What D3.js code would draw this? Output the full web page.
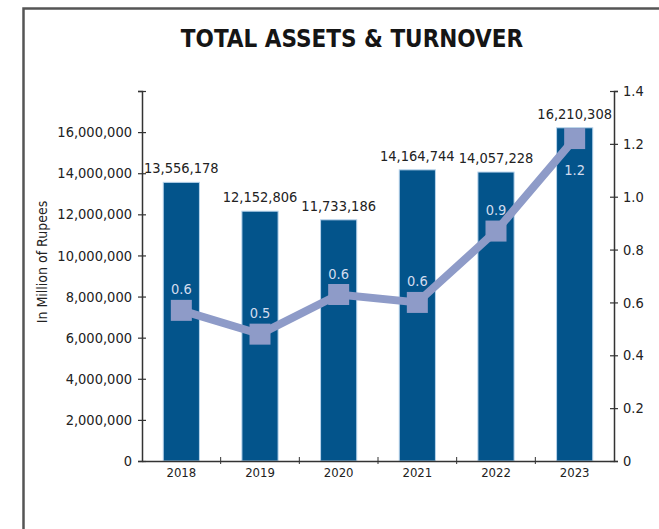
<!DOCTYPE html>
<html>
<head>
<meta charset="utf-8">
<script src="https://cdn.jsdelivr.net/npm/d3@7"></script>
<style>
	body { margin: 0; background: #fff; }
	text { font-family: "DejaVu Sans Condensed", "DejaVu Sans", sans-serif; }
</style>
</head>
<body>
<div id="chart" style="width:659px;height:529px;"></div>
<script>
// chart data
var years = ["2018", "2019", "2020", "2021", "2022", "2023"];
var totalAssets = [13556178, 12152806, 11733186, 14164744, 14057228, 16210308];
var turnover = [0.57, 0.48, 0.63, 0.60, 0.87, 1.22];
var turnoverLabels = ["0.6", "0.5", "0.6", "0.6", "0.9", "1.2"];
var assetTicks = [0, 2000000, 4000000, 6000000, 8000000, 10000000, 12000000, 14000000, 16000000, 18000000];
var turnoverTicks = [0, 0.2, 0.4, 0.6, 0.8, 1.0, 1.2, 1.4];

var Combo = function(config){
	// defaults
	this.targetId = null;
	this.margin = {top: 91, right: 45, bottom: 68, left: 142};
	Object.keys(config).forEach(key => this[key] = config[key]);

	this.setupSVG();
	this.setupScales();
	this.drawFrame();
	this.drawBars();
	this.drawAxes();
	this.drawLine();
}

Combo.prototype.setupSVG = function(){
	this.width = 659;
	this.height = 529;
	this.chartWidth = this.width - this.margin.left - this.margin.right;
	this.chartHeight = this.height - this.margin.top - this.margin.bottom;

	this.svg = d3.select("#" + this.targetId)
		.append('svg')
		.attr('width', this.width)
		.attr('height', this.height);

	this.g = this.svg.append('g')
		.attr('transform', `translate(${this.margin.left}, ${this.margin.top})`);
}

Combo.prototype.setupScales = function(){
	this.x = d3.scaleBand()
		.domain(years)
		.range([0, this.chartWidth])
		.paddingInner(0.54)
		.paddingOuter(0.27);

	this.y = d3.scaleLinear()
		.domain([0, 18000000])
		.range([this.chartHeight, 0]);

	this.y2 = d3.scaleLinear()
		.domain([0, 1.4])
		.range([this.chartHeight, 0]);
}

/**
The grey frame round the top and left of the picture
*/
Combo.prototype.drawFrame = function(){
	this.svg.append('path')
		.attr('d', `M23.5,${this.height} L23.5,8.5 L${this.width},8.5`)
		.attr('fill', 'none')
		.attr('stroke', '#555')
		.attr('stroke-width', 2.5);

	this.svg.append('text')
		.attr('x', 352)
		.attr('y', 47)
		.attr('text-anchor', 'middle')
		.style('font-size', '24px')
		.style('font-weight', 'bold')
		.attr('fill', '#151515')
		.text("TOTAL ASSETS & TURNOVER");

	this.svg.append('text')
		.attr('transform', `translate(47, 262) rotate(-90)`)
		.attr('text-anchor', 'middle')
		.style('font-size', '14px')
		.attr('fill', '#222')
		.text("In Million of Rupees");
}

Combo.prototype.drawBars = function(){
	let bw = this.x.bandwidth();

	this.g.selectAll('.bar')
		.data(years)
		.enter()
		.append('rect')
		.attr('class', 'bar')
		.attr('x', d => this.x(d))
		.attr('y', (d, i) => this.y(totalAssets[i]))
		.attr('width', bw)
		.attr('height', (d, i) => this.chartHeight - this.y(totalAssets[i]))
		.attr('fill', '#03548b')
		.attr('stroke', '#b9d4ec')
		.attr('stroke-width', 1);

	this.g.selectAll('.barLabel')
		.data(years)
		.enter()
		.append('text')
		.attr('class', 'barLabel')
		.attr('x', d => this.x(d) + bw / 2)
		.attr('y', (d, i) => this.y(totalAssets[i]) - 9)
		.attr('text-anchor', 'middle')
		.style('font-size', '14.5px')
		.attr('fill', '#222')
		.text((d, i) => d3.format(",")(totalAssets[i]));
}

Combo.prototype.drawAxes = function(){
	let axisColor = '#333';

	// left axis
	let yAxis = d3.axisLeft(this.y)
		.tickValues(assetTicks)
		.tickSize(4)
		.tickPadding(6)
		.tickFormat(d => d == 18000000 ? "" : d3.format(",")(d));
	let yG = this.g.append('g').call(yAxis);
	yG.selectAll('.tick line').attr('x1', -4).attr('x2', 4);

	// right axis
	let y2Axis = d3.axisRight(this.y2)
		.tickValues(turnoverTicks)
		.tickSize(4)
		.tickPadding(5)
		.tickFormat(d => d == 0 ? "0" : d3.format(".1f")(d));
	let y2G = this.g.append('g')
		.attr('transform', `translate(${this.chartWidth}, 0)`)
		.call(y2Axis);
	y2G.selectAll('.tick line').attr('x1', -4).attr('x2', 4);

	// bottom axis, ticks sit between the years
	let xAxis = d3.axisBottom(this.x)
		.tickSize(0)
		.tickPadding(7);
	let xG = this.g.append('g')
		.attr('transform', `translate(0, ${this.chartHeight})`)
		.call(xAxis);

	let step = this.x.step();
	xG.selectAll('.sep')
		.data(years.slice(1))
		.enter()
		.append('line')
		.attr('class', 'sep')
		.attr('x1', d => this.x(d) - step * 0.27)
		.attr('x2', d => this.x(d) - step * 0.27)
		.attr('y1', -4)
		.attr('y2', 3)
		.attr('stroke', axisColor);

	[yG, y2G, xG].forEach(function(a){
		a.select('.domain').attr('stroke', axisColor).attr('stroke-width', 1.5);
		a.selectAll('.tick line').attr('stroke', axisColor).attr('stroke-width', 1.2);
		a.selectAll('text')
			.style('font-family', '"DejaVu Sans Condensed", sans-serif')
			.attr('fill', '#222');
	});
	yG.selectAll('text').style('font-size', '14.5px');
	y2G.selectAll('text').style('font-size', '14.5px');
	xG.selectAll('text').style('font-size', '13px');
}

Combo.prototype.drawLine = function(){
	let bw = this.x.bandwidth();
	let lineColor = '#8e9bc8';

	let line = d3.line()
		.x((d, i) => this.x(years[i]) + bw / 2)
		.y(d => this.y2(d));

	this.g.append('path')
		.datum(turnover)
		.attr('d', line)
		.attr('fill', 'none')
		.attr('stroke', lineColor)
		.attr('stroke-width', 8);

	let size = 21;
	this.g.selectAll('.marker')
		.data(turnover)
		.enter()
		.append('rect')
		.attr('class', 'marker')
		.attr('x', (d, i) => this.x(years[i]) + bw / 2 - size / 2)
		.attr('y', d => this.y2(d) - size / 2)
		.attr('width', size)
		.attr('height', size)
		.attr('fill', lineColor);

	// last label sits under its marker
	let last = turnover.length - 1;
	this.g.selectAll('.lineLabel')
		.data(turnover)
		.enter()
		.append('text')
		.attr('class', 'lineLabel')
		.attr('x', (d, i) => this.x(years[i]) + bw / 2)
		.attr('y', (d, i) => this.y2(d) + (i == last ? 36 : -16))
		.attr('text-anchor', 'middle')
		.style('font-size', '14.5px')
		.attr('fill', '#d2dcee')
		.text((d, i) => turnoverLabels[i]);
}

new Combo({targetId: 'chart'});
</script>
</body>
</html>
